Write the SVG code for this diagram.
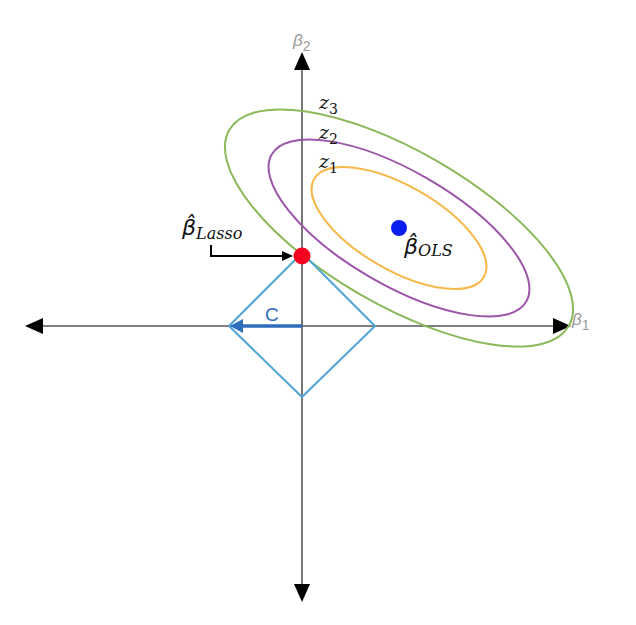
<svg xmlns="http://www.w3.org/2000/svg" width="636" height="625" viewBox="0 0 636 625">
<defs>
<style>
.axis{stroke:#555;stroke-width:1.6;fill:none}
.ah{fill:#000}
.ell{fill:none;stroke-width:2}
.math{font-family:"DejaVu Serif","Liberation Serif",serif;font-style:italic;fill:#111}
.beta{font-family:"DejaVu Sans",sans-serif;font-style:italic;fill:#111;font-size:22px}
.sub{font-family:"DejaVu Serif",serif;font-size:16px}
.glab{font-family:"Liberation Sans",Arial,sans-serif;fill:#9a9a9a;font-style:italic}
</style>
</defs>
<rect width="636" height="625" fill="#fff"/>
<g id="axes">
<line class="axis" x1="302" y1="66" x2="302" y2="588"/>
<line class="axis" x1="40" y1="326" x2="556" y2="326"/>
<polygon class="ah" points="302,52 294,70 310,70"/>
<polygon class="ah" points="302,602 294,584 310,584"/>
<polygon class="ah" points="25,326 43,318 43,334"/>
<polygon class="ah" points="571,326 553,318 553,334"/>
</g>
<g id="contours">
<ellipse class="ell" cx="399" cy="228" rx="98" ry="42" transform="rotate(30 399 228)" stroke="#f7b84a"/>
<ellipse class="ell" cx="399" cy="228" rx="147" ry="57" transform="rotate(30 399 228)" stroke="#9c55a8"/>
<ellipse class="ell" cx="399" cy="228" rx="196" ry="77" transform="rotate(30 399 228)" stroke="#8ab95a"/>
</g>
<g id="diamond">
<polygon points="302,253 375,326 302,397 229,326" fill="none" stroke="#4ea6d6" stroke-width="2"/>
</g>
<g id="connectors">
<line x1="302" y1="326" x2="240" y2="326" stroke="#2f6dbd" stroke-width="3.5"/>
<polygon points="230,326 243,319 243,333" fill="#2f6dbd"/>
<polyline points="211,245 211,256 284,256" fill="none" stroke="#000" stroke-width="2"/>
<polygon points="293,256 282,251 282,261" fill="#000"/>
</g>
<g id="points">
<circle cx="302" cy="256" r="8.5" fill="#f5001e"/>
<circle cx="399" cy="228" r="8" fill="#0a1ef0"/>
</g>
<g id="labels">
<text x="265" y="321" font-family="Liberation Sans,Arial,sans-serif" font-size="19" fill="#2f6dbd">C</text>
<text class="math" x="319" y="109" font-size="19">z<tspan font-size="14" dy="5" font-style="normal">3</tspan></text>
<text class="math" x="319" y="139" font-size="19">z<tspan font-size="14" dy="5" font-style="normal">2</tspan></text>
<text class="math" x="319" y="168" font-size="19">z<tspan font-size="14" dy="5" font-style="normal">1</tspan></text>
<text class="beta" x="182" y="235">&#946;&#770;<tspan class="sub" dy="4">Lasso</tspan></text>
<text class="beta" x="404" y="254">&#946;&#770;<tspan class="sub" dy="2">OLS</tspan></text>
<text class="glab" x="293" y="46" font-size="17">β<tspan font-size="14" dy="5" font-style="normal">2</tspan></text>
<text class="glab" x="572" y="325" font-size="17">β<tspan font-size="14" dy="5" font-style="normal">1</tspan></text>
</g>
</svg>
